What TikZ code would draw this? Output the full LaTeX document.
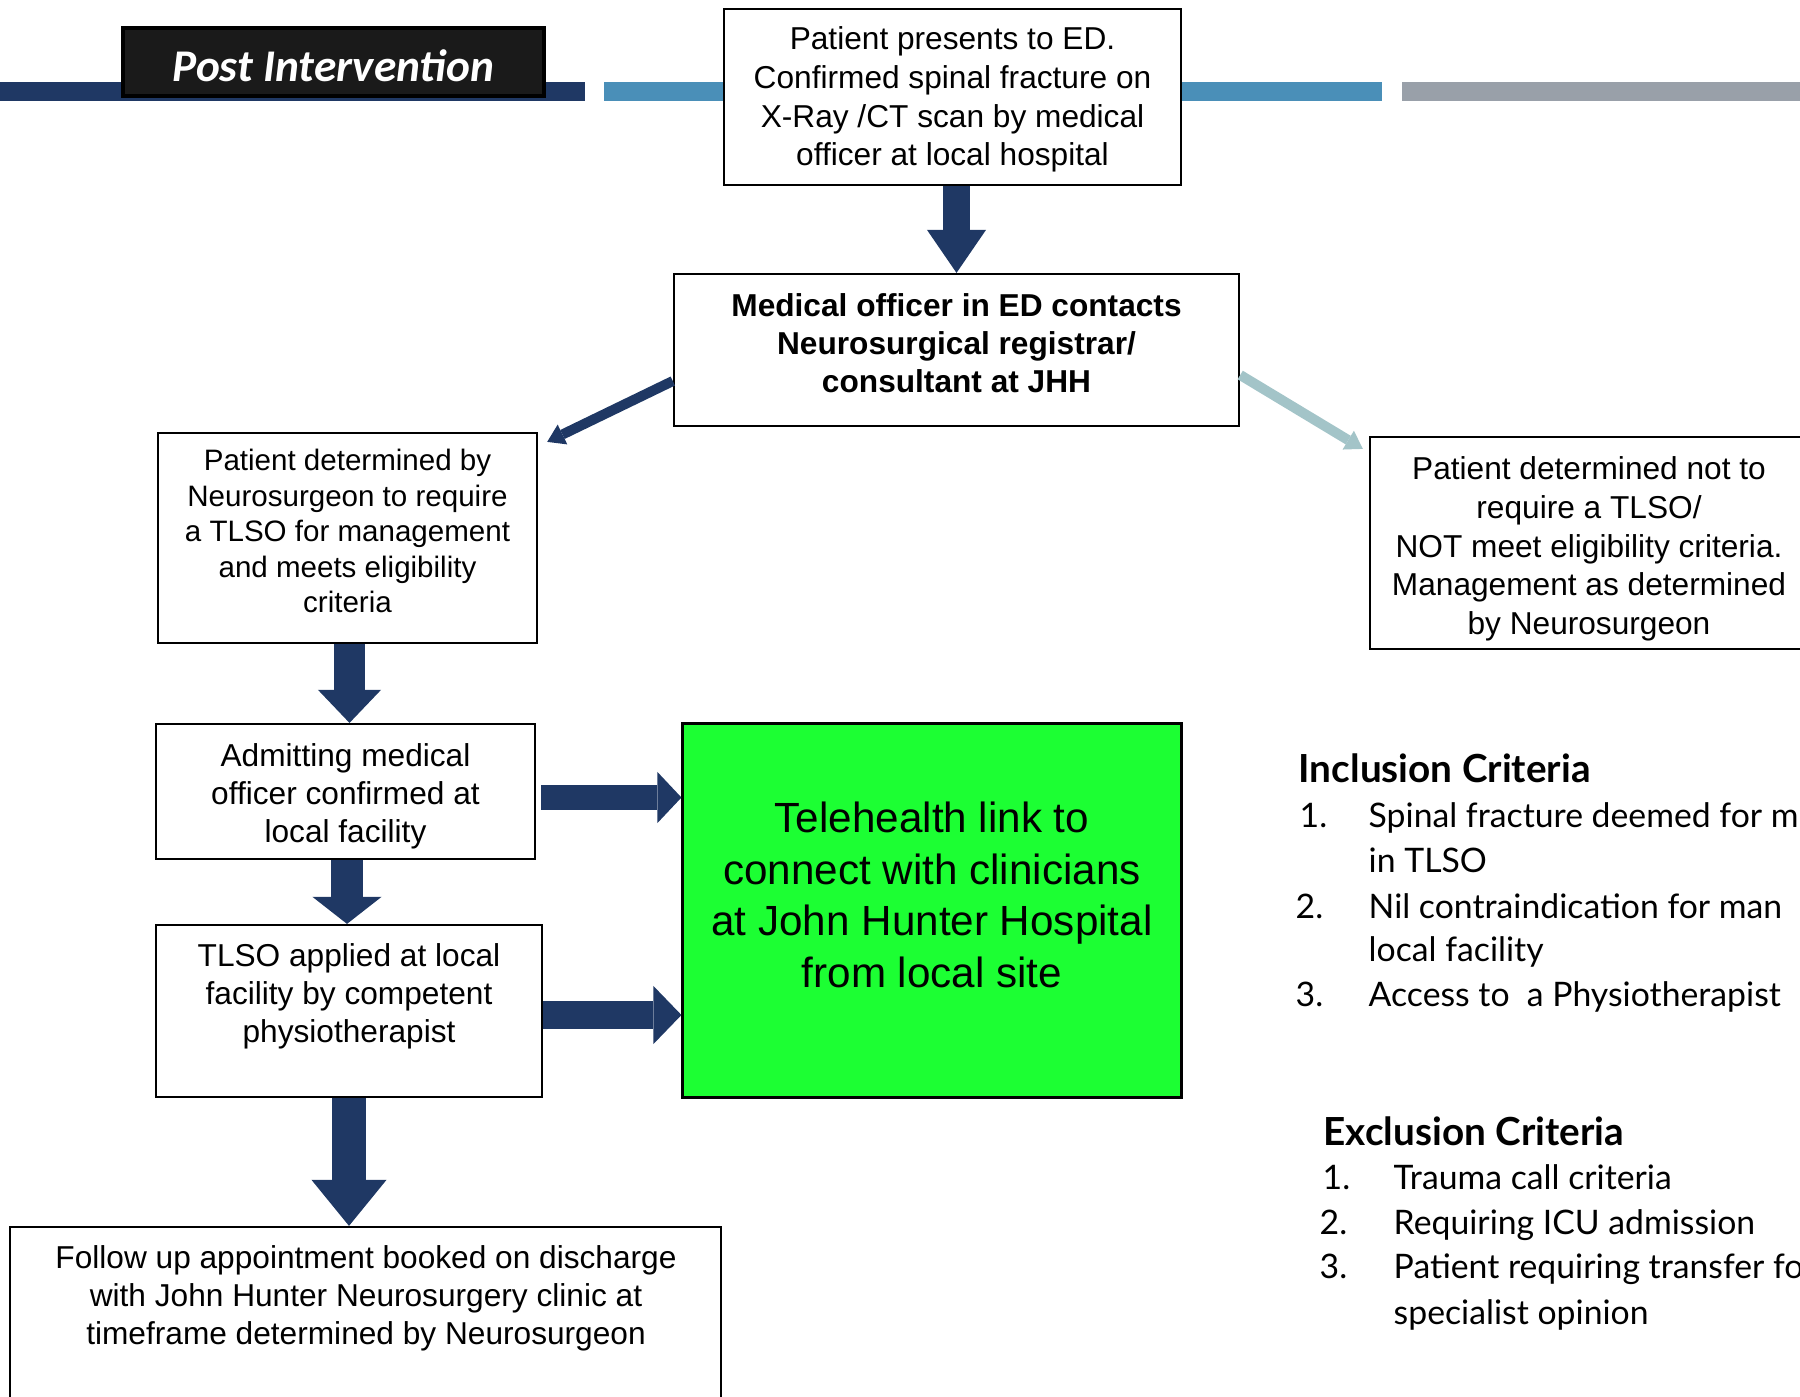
\documentclass[tikz,border=0pt]{standalone}
\usepackage{fontspec}
\setmainfont{Liberation Sans}
\newfontfamily\titlefont{Carlito}
\newfontfamily\critfont{Lato}
\usetikzlibrary{arrows.meta, positioning, calc}

\definecolor{navy}{HTML}{1F3864}
\definecolor{barblue}{HTML}{4A8FB8}
\definecolor{bargray}{HTML}{99A0A9}
\definecolor{paleteal}{HTML}{A3C4C8}
\definecolor{telegreen}{HTML}{1CFF33}
\definecolor{titleblack}{HTML}{1A1A1A}

\begin{document}
\begin{tikzpicture}[
		x=0.01cm, y=-0.01cm,
		box/.style={draw, fill=white, line width=0.6pt, inner sep=0pt},
		txt/.style={align=center, inner sep=0pt, font=\fontsize{9}{10.8}\selectfont},
		fat/.style n args={3}{navy, line width=#1,
				-{Triangle[length=#2, width=#3, line width=0pt]}},
		crit/.style={anchor=base west, inner sep=0pt, font=\critfont\fontsize{9.6}{12}\selectfont},
		crithead/.style={anchor=base west, inner sep=0pt, font=\critfont\bfseries\fontsize{11}{13}\selectfont}
	]
	\useasboundingbox (0,0) rectangle (1800,1397);
	\clip (0,0) rectangle (1800,1397);

	% header bars
	\fill[navy] (0,82) rectangle (585,101);
	\fill[barblue] (604,82) rectangle (1382,101);
	\fill[bargray] (1402,82) rectangle (1800,101);

	\node[draw=black, line width=1.2pt, fill=titleblack, minimum width=4.21cm, minimum height=0.68cm] (title) at (333.5,62) {};
	\node[text=white, inner sep=0pt, font=\titlefont\bfseries\itshape\fontsize{12.9}{15}\selectfont] (titletxt) at (333.5,65.5) {Post Intervention};

	% flow boxes
	\node[box, minimum width=4.57cm, minimum height=1.76cm] (ed) at (952.5,97) {};
	\node[txt, font=\fontsize{9}{11}\selectfont] (edtxt) at (952.5,99.5)
	{Patient presents to ED.\\Confirmed spinal fracture on\\X-Ray /CT scan by medical\\officer at local hospital};

	\node[box, minimum width=5.65cm, minimum height=1.52cm] (contact) at (956.5,350) {};
	\node[txt, font=\bfseries\fontsize{9}{10.8}\selectfont] (contacttxt) at (956.5,343)
	{Medical officer in ED contacts\\Neurosurgical registrar/\\consultant at JHH};

	\node[box, minimum width=3.79cm, minimum height=2.10cm] (tlso) at (347.5,538) {};
	\node[txt, font=\fontsize{8.4}{10.1}\selectfont] (tlsotxt) at (347.5,531)
	{Patient determined by\\Neurosurgeon to require\\a TLSO for management\\and meets eligibility\\criteria};

	\node[box, minimum width=4.38cm, minimum height=2.12cm] (notlso) at (1589,543) {};
	\node[txt, font=\fontsize{9}{11}\selectfont] (notlsotxt) at (1589,549)
	{Patient determined not to\\require a TLSO/\\NOT meet eligibility criteria.\\Management as determined\\by Neurosurgeon};

	\node[box, minimum width=3.79cm, minimum height=1.35cm] (admit) at (345.5,791.5) {};
	\node[txt] (admittxt) at (345.5,796) {Admitting medical\\officer confirmed at\\local facility};

	\node[box, minimum width=3.86cm, minimum height=1.72cm] (applied) at (349,1011) {};
	\node[txt] (appliedtxt) at (349,996.5) {TLSO applied at local\\facility by competent\\physiotherapist};

	\node[box, minimum width=7.11cm, minimum height=2.30cm] (followup) at (365.5,1342) {};
	\node[txt] (followuptxt) at (366,1298.5)
	{Follow up appointment booked on discharge\\with John Hunter Neurosurgery clinic at\\timeframe determined by Neurosurgeon};

	\node[box, fill=telegreen, line width=0.8pt, minimum width=4.98cm, minimum height=3.73cm] (tele) at (932,910.5) {};
	\node[txt, font=\fontsize{12}{14.7}\selectfont] (teletxt) at (932,895)
	{Telehealth link to\\connect with clinicians\\at John Hunter Hospital\\from local site};

	% block arrows
	\draw[fat={0.27cm}{0.43cm}{0.59cm}] (ed.south -| contact.north) -- (contact.north);
	\draw[fat={0.31cm}{0.33cm}{0.63cm}] ([xshift=0.02cm]tlso.south) -- ([xshift=0.02cm]tlso.south |- admit.north);
	\draw[fat={0.32cm}{0.27cm}{0.69cm}] ([xshift=0.015cm]admit.south) -- ([xshift=0.015cm]admit.south |- applied.north);
	\draw[fat={0.34cm}{0.46cm}{0.75cm}] (applied.south) -- (applied.south |- followup.north);

	\coordinate (admitout) at ([xshift=0.05cm, yshift=-0.06cm]admit.east);
	\coordinate (appliedout) at ([yshift=-0.04cm]applied.east);
	\draw[fat={0.25cm}{0.24cm}{0.51cm}] (admitout) -- (tele.west |- admitout);
	\draw[fat={0.28cm}{0.28cm}{0.58cm}] (appliedout) -- (tele.west |- appliedout);

	\draw[navy, line width=0.1cm, -{Triangle[length=0.17cm, width=0.22cm, line width=0pt]}]
	([yshift=-0.31cm]contact.west) -- ([xshift=0.09cm, yshift=-0.1cm]tlso.north east);
	\draw[paleteal, line width=0.1cm, -{Triangle[length=0.17cm, width=0.22cm, line width=0pt]}]
	([yshift=-0.25cm]contact.east) -- ([xshift=-0.06cm, yshift=-0.13cm]notlso.north west);

	% criteria
	\node[crithead] (incl) at (1298,782) {Inclusion Criteria};
	\node[crit] (incl-n1) at (1299,827) {1.};
	\node[crit] (incl-1) at (1368,827) {Spinal fracture deemed for m};
	\node[crit] (incl-1b) at (1368,872) {in TLSO};
	\node[crit] (incl-n2) at (1295,918) {2.};
	\node[crit] (incl-2) at (1368,918) {Nil contraindication for man};
	\node[crit] (incl-2b) at (1368,961) {local facility};
	\node[crit] (incl-n3) at (1295,1006) {3.};
	\node[crit] (incl-3) at (1368,1006) {Access to\ \ a Physiotherapist};

	\node[crithead] (excl) at (1323,1145) {Exclusion Criteria};
	\node[crit] (excl-n1) at (1322,1189) {1.};
	\node[crit] (excl-1) at (1393,1189) {Trauma call criteria};
	\node[crit] (excl-n2) at (1319,1234) {2.};
	\node[crit] (excl-2) at (1393,1234) {Requiring ICU admission};
	\node[crit] (excl-n3) at (1319,1278) {3.};
	\node[crit] (excl-3) at (1393,1278) {Patient requiring transfer fo};
	\node[crit] (excl-3b) at (1393,1324) {specialist opinion};
\end{tikzpicture}
\end{document}
